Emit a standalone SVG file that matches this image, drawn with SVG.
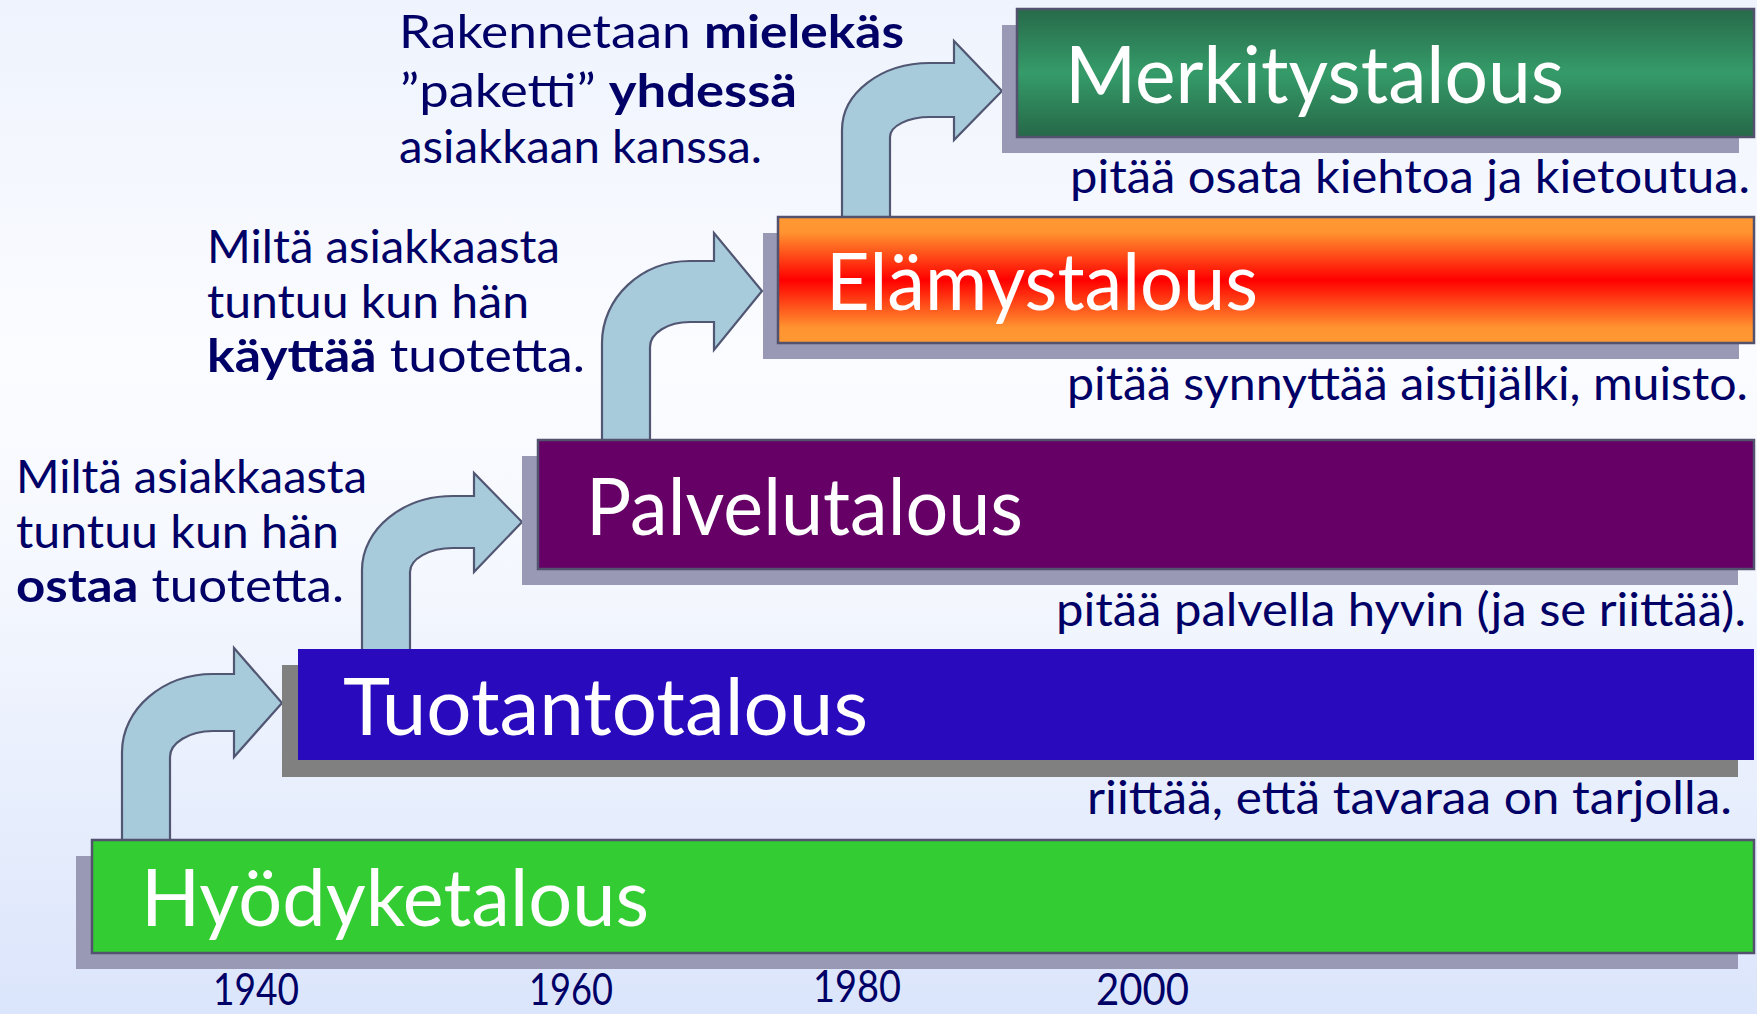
<svg xmlns="http://www.w3.org/2000/svg" width="1757" height="1014" viewBox="0 0 1757 1014">
<defs>
<linearGradient id="bg" x1="0" y1="0" x2="0" y2="1">
<stop offset="0" stop-color="#eef3fd"/>
<stop offset="0.35" stop-color="#fbfcff"/>
<stop offset="0.55" stop-color="#f5f8fe"/>
<stop offset="1" stop-color="#dbe5fb"/>
</linearGradient>
<linearGradient id="gGreen" x1="0" y1="0" x2="0" y2="1">
<stop offset="0" stop-color="#276a4a"/>
<stop offset="0.5" stop-color="#359b69"/>
<stop offset="1" stop-color="#266848"/>
</linearGradient>
<linearGradient id="gRed" x1="0" y1="0" x2="0" y2="1">
<stop offset="0" stop-color="#ff9933"/>
<stop offset="0.12" stop-color="#ff9430"/>
<stop offset="0.5" stop-color="#ff0000"/>
<stop offset="0.88" stop-color="#ff9430"/>
<stop offset="1" stop-color="#ff9933"/>
</linearGradient>
</defs>
<style>
.shadow{fill:#9999b5}
.box{stroke:#52526e;stroke-width:2.5}
.label{font-family:Lato,"Open Sans",sans-serif;font-size:80px;fill:#ffffff}
.txt{font-family:Lato,"Open Sans",sans-serif;font-size:46px;fill:#000066}
.b{font-weight:bold}
.year{font-family:Lato,"Open Sans",sans-serif;font-size:44px;fill:#000066}
.arrow{fill:#a7cbda;stroke:#515673;stroke-width:2.2;stroke-linejoin:miter}
</style>
<rect x="0" y="0" width="1757" height="1014" fill="url(#bg)"/>

<g id="connectors">
<path class="arrow" d="M122,843 L122,752 C122,709 163,674 213,674 L234,674 L234,648 L282,703 L234,757 L234,731 L213,731 C189,731 170,743 170,757 L170,843 Z"/>
<path class="arrow" d="M362,651 L362,570 C362,529 403,496 453,496 L474,496 L474,473 L522,522 L474,572 L474,548 L453,548 C429,548 410,559 410,572 L410,651 Z"/>
<path class="arrow" d="M602,442 L602,343 C602,298 641,261 690,261 L714,261 L714,233 L762,291 L714,350 L714,322 L690,322 C668,322 650,333 650,347 L650,442 Z"/>
<path class="arrow" d="M842,219 L842,130 C842,93 881,63 930,63 L954,63 L954,41 L1002,91 L954,140 L954,117 L930,117 C908,117 890,126 890,137 L890,219 Z"/>
</g>

<g id="merkitystalous">
<rect class="shadow" x="1002" y="25" width="737" height="128"/>
<rect class="box" x="1017" y="9" width="737" height="128" fill="url(#gGreen)"/>
<text class="label" x="1065" y="103" textLength="499" lengthAdjust="spacingAndGlyphs">Merkitystalous</text>
</g>

<g id="elamystalous">
<rect class="shadow" x="763" y="233" width="976" height="126"/>
<rect class="box" x="778" y="217" width="976" height="126" fill="url(#gRed)"/>
<text class="label" x="826" y="310" textLength="432" lengthAdjust="spacingAndGlyphs">Elämystalous</text>
</g>

<g id="palvelutalous">
<rect class="shadow" x="522" y="456" width="1216" height="129"/>
<rect class="box" x="538" y="440" width="1216" height="129" fill="#660066"/>
<text class="label" x="586" y="535" textLength="437" lengthAdjust="spacingAndGlyphs">Palvelutalous</text>
</g>

<g id="tuotantotalous">
<rect x="282" y="665" width="1456" height="112" fill="#808080"/>
<rect x="298" y="649" width="1456" height="111" fill="#2a0abd"/>
<text class="label" x="343" y="735" textLength="525" lengthAdjust="spacingAndGlyphs">Tuotantotalous</text>
</g>

<g id="hyodyketalous">
<rect class="shadow" x="76" y="856" width="1662" height="113"/>
<rect class="box" x="92" y="840" width="1662" height="113" fill="#33cc33"/>
<text class="label" x="141" y="926" textLength="508" lengthAdjust="spacingAndGlyphs">Hyödyketalous</text>
</g>

<g id="note-merkitys">
<text class="txt" x="399" y="48" textLength="505" lengthAdjust="spacingAndGlyphs">Rakennetaan <tspan class="b">mielekäs</tspan></text>
<text class="txt" x="400" y="107" textLength="397" lengthAdjust="spacingAndGlyphs">”paketti” <tspan class="b">yhdessä</tspan></text>
<text class="txt" x="399" y="163" textLength="363" lengthAdjust="spacingAndGlyphs">asiakkaan kanssa.</text>
</g>

<g id="note-elamys">
<text class="txt" x="207" y="263" textLength="353" lengthAdjust="spacingAndGlyphs">Miltä asiakkaasta</text>
<text class="txt" x="207" y="318" textLength="322" lengthAdjust="spacingAndGlyphs">tuntuu kun hän</text>
<text class="txt" x="207" y="372" textLength="378" lengthAdjust="spacingAndGlyphs"><tspan class="b">käyttää</tspan> tuotetta.</text>
</g>

<g id="note-palvelu">
<text class="txt" x="16" y="493" textLength="351" lengthAdjust="spacingAndGlyphs">Miltä asiakkaasta</text>
<text class="txt" x="16" y="548" textLength="323" lengthAdjust="spacingAndGlyphs">tuntuu kun hän</text>
<text class="txt" x="16" y="602" textLength="328" lengthAdjust="spacingAndGlyphs"><tspan class="b">ostaa</tspan> tuotetta.</text>
</g>

<g id="desc">
<text class="txt" x="1750" y="193" text-anchor="end" textLength="680" lengthAdjust="spacingAndGlyphs">pitää osata kiehtoa ja kietoutua.</text>
<text class="txt" x="1748" y="400" text-anchor="end" textLength="681" lengthAdjust="spacingAndGlyphs">pitää synnyttää aistijälki, muisto.</text>
<text class="txt" x="1746" y="626" text-anchor="end" textLength="690" lengthAdjust="spacingAndGlyphs">pitää palvella hyvin (ja se riittää).</text>
<text class="txt" x="1732" y="814" text-anchor="end" textLength="645" lengthAdjust="spacingAndGlyphs">riittää, että tavaraa on tarjolla.</text>
</g>

<g id="years">
<text class="year" x="213" y="1005" textLength="86" lengthAdjust="spacingAndGlyphs">1940</text>
<text class="year" x="529" y="1005" textLength="84" lengthAdjust="spacingAndGlyphs">1960</text>
<text class="year" x="813" y="1002" textLength="88" lengthAdjust="spacingAndGlyphs">1980</text>
<text class="year" x="1096" y="1005" textLength="93" lengthAdjust="spacingAndGlyphs">2000</text>
</g>
</svg>
